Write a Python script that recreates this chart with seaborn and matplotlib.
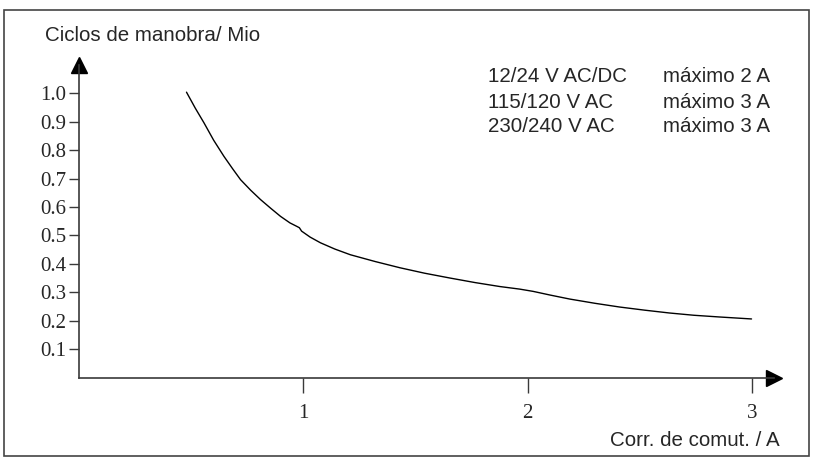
import numpy as np
import seaborn as sns
import matplotlib.pyplot as plt
from matplotlib.patches import Rectangle

# Curve values
current = [0.479, 0.518, 0.557, 0.600, 0.646, 0.685, 0.720, 0.765, 0.809, 0.855,
           0.898, 0.940, 0.970, 0.982, 0.992, 1.030, 1.076, 1.140, 1.209, 1.320,
           1.431, 1.540, 1.653, 1.765, 1.876, 1.964, 2.024, 2.100, 2.187, 2.300,
           2.409, 2.520, 2.631, 2.740, 2.853, 2.997]
cycles = [1.004, 0.948, 0.896, 0.835, 0.778, 0.734, 0.696, 0.659, 0.626, 0.595,
          0.567, 0.544, 0.532, 0.527, 0.515, 0.494, 0.474, 0.452, 0.432, 0.408,
          0.386, 0.367, 0.350, 0.334, 0.320, 0.311, 0.303, 0.290, 0.276, 0.261,
          0.248, 0.237, 0.227, 0.219, 0.213, 0.206]

y_ticks = [0.1, 0.2, 0.3, 0.4, 0.5, 0.6, 0.7, 0.8, 0.9, 1.0]
y_tick_labels = ['0.1', '0.2', '0.3', '0.4', '0.5', '0.6', '0.7', '0.8', '0.9', '1.0']
x_ticks = [1, 2, 3]
x_tick_labels = ['1', '2', '3']

voltages = ['12/24 V AC/DC', '115/120 V AC', '230/240 V AC']
limits = ['máximo 2 A', 'máximo 3 A', 'máximo 3 A']

sns.set_style('white')
plt.rcParams['font.family'] = ['Liberation Sans', 'DejaVu Sans']

W, H = 813, 459
fig = plt.figure(figsize=(W / 100, H / 100), dpi=100)
ax = fig.add_axes([79 / W, (H - 377.5) / H, 695.2 / W, 312.9 / H])

sns.lineplot(x=current, y=cycles, sort=False, color='black', linewidth=1.0, ax=ax)

ax.set_xlim(0, 3.098)
ax.set_ylim(0, 1.101)

axis_color = '#3a3a3a'
for side in ['top', 'right']:
    ax.spines[side].set_visible(False)
for side in ['left', 'bottom']:
    ax.spines[side].set_color(axis_color)
    ax.spines[side].set_linewidth(1.2)

# arrow heads at the ends of the axes
ax.plot(1, 0, marker='>', ms=11, color='black', transform=ax.transAxes, clip_on=False)
ax.plot(0, 1, marker='^', ms=11, color='black', transform=ax.transAxes, clip_on=False)

ax.set_yticks(y_ticks)
ax.set_yticklabels(y_tick_labels, family='Liberation Serif', fontsize=15)
ax.set_xticks(x_ticks)
ax.set_xticklabels(x_tick_labels, family='Liberation Serif', fontsize=15)
ax.tick_params(axis='y', direction='out', length=7.5, width=1.0, color=axis_color, pad=1.5, left=True)
ax.tick_params(axis='x', direction='out', length=11, width=1.0, color=axis_color, pad=8, bottom=True)
ax.set_xlabel('')
ax.set_ylabel('')

fig.text(45 / W, 1 - 35.5 / H, 'Ciclos de manobra/ Mio', ha='left', va='center', fontsize=14.8)
fig.text(780 / W, 1 - 440 / H, 'Corr. de comut. / A', ha='right', va='center', fontsize=14.8)

for i, (v, lim) in enumerate(zip(voltages, limits)):
    y = 1 - (77 + 25 * i) / H
    fig.text(488 / W, y, v, ha='left', va='center', fontsize=14.8)
    fig.text(663 / W, y, lim, ha='left', va='center', fontsize=14.8)

# frame around the whole picture
fig.add_artist(Rectangle((4 / W, 3 / H), 805 / W, 446.5 / H, transform=fig.transFigure,
                         fill=False, edgecolor='#444444', linewidth=1.2))

fig.savefig('out.png', dpi=100)
